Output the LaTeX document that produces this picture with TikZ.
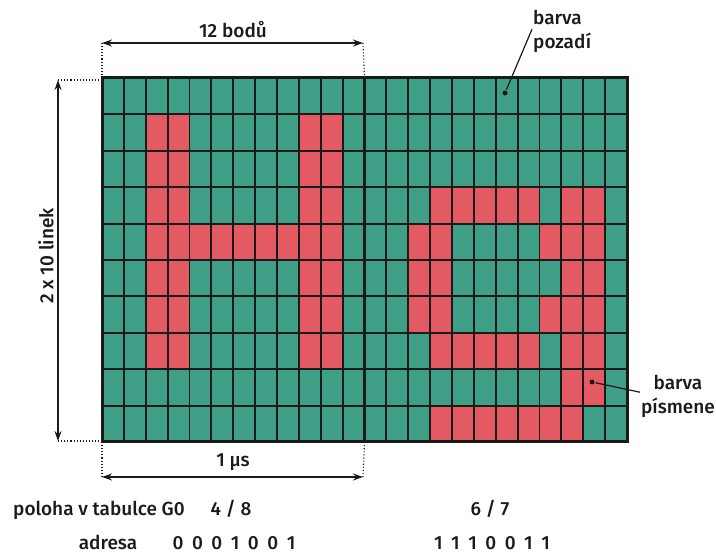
\documentclass[tikz,border=0pt]{standalone}
\usepackage{fontspec}
\setmainfont{Fira Sans}[UprightFont={* Medium}]
\usetikzlibrary{arrows.meta, positioning}
\definecolor{pixgreen}{HTML}{3E9E86}
\definecolor{pixred}{HTML}{E35A62}
\definecolor{pixink}{HTML}{1A1A1A}

\begin{document}
\begin{tikzpicture}[x=1pt, y=-1pt,
        lbl/.style={font=\fontsize{19}{23.5}\selectfont, text=pixink, inner sep=1pt, align=left},
        dim/.style={{Stealth[length=10pt,width=7pt]}-{Stealth[length=10pt,width=7pt]}, line width=1.4pt, pixink},
        guide/.style={dotted, line width=1.1pt, pixink},
        lead/.style={line width=1.2pt, pixink, shorten <=1pt},
        dot/.style={circle, fill=pixink, inner sep=0pt, minimum size=5pt}
    ]
        \useasboundingbox (0,0) rectangle (716,556);

        % pixel grid, 24 x 10 cells
        \begin{scope}[shift={(102,78)}, x=21.875pt, y=-36.4pt]
            \fill[pixgreen] (0,0) rectangle (24,10);
            \foreach \r/\a/\b in {1/2/3, 1/9/10, 2/2/3, 2/9/10, 3/2/3, 3/9/10, 4/2/10,
                    5/2/3, 5/9/10, 6/2/3, 6/9/10, 7/2/3, 7/9/10,
                    3/15/19, 3/21/22, 4/14/15, 4/20/22, 5/14/15, 5/21/22, 6/14/15,
                    6/20/22, 7/15/19, 7/21/22, 8/21/22, 9/15/21}
                \fill[pixred] (\a,\r) rectangle (\b+1,\r+1);
            \foreach \c in {1,...,23}
                \draw[line width=1.9pt, pixink] (\c,0) -- (\c,10);
            \foreach \r in {1,...,9}
                \draw[line width=1.9pt, pixink] (0,\r) -- (24,\r);
            \draw[line width=2.6pt, pixink] (12,0) -- (12,10);
            \draw[line width=3pt, pixink] (0,0) rectangle (24,10);
            \coordinate (gridNW) at (0,0);
            \coordinate (gridNM) at (12,0);
            \coordinate (gridSW) at (0,10);
            \coordinate (gridSM) at (12,10);
        \end{scope}

        % top dimension
        \coordinate (topL) at (102,43);
        \coordinate (topR) at (363,43);
        \draw[guide] (topL) -- (gridNW);
        \draw[guide] (topR) -- (gridNM);
        \draw[dim] (topL) -- (topR);
        \node (pts) [lbl, anchor=base] at (233,38) {12 bodů};

        % left dimension
        \coordinate (leftT) at (58,80);
        \coordinate (leftB) at (58,441);
        \draw[guide] (leftT) -- (102,80);
        \draw[guide] (leftB) -- (102,441);
        \draw[dim] (leftT) -- (leftB);
        \node (lines) [lbl, rotate=90] at (46,256) {2 x 10 linek};

        % bottom dimension
        \coordinate (botL) at (102,477);
        \coordinate (botR) at (363,477);
        \draw[guide] (gridSW) -- (botL);
        \draw[guide] (gridSM) -- (botR);
        \draw[dim] (botL) -- (botR);
        \node (time) [lbl, anchor=base] at (233,467) {1 µs};

        % callouts
        \node (bgdot) [dot] at (505,93) {};
        \node (bgtxt) [lbl, anchor=north west] at (532,9) {barva\\pozadí};
        \draw[lead] (bgdot) -- ([yshift=2pt]bgtxt.west);
        \node (fgdot) [dot] at (592,382) {};
        \node (fgtxt) [lbl, align=center, anchor=north] at (678,374) {barva\\písmene};
        \draw[lead] (fgdot) -- ([yshift=4pt]fgtxt.west);

        % table rows
        \node (pos) [lbl, anchor=base west] at (12,515) {poloha v tabulce G0};
        \node (posH) [lbl, anchor=base] at (231,515) {4 / 8};
        \node (posO) [lbl, anchor=base] at (490,515) {6 / 7};
        \node (addr) [lbl, anchor=base] at (108,550) {adresa};
        \node (addrH) [lbl, anchor=base] at (234,550) {0\hspace{0.45em}0\hspace{0.45em}0\hspace{0.45em}1\hspace{0.45em}0\hspace{0.45em}0\hspace{0.45em}1};
        \node (addrO) [lbl, anchor=base] at (492,550) {1\hspace{0.45em}1\hspace{0.45em}1\hspace{0.45em}0\hspace{0.45em}0\hspace{0.45em}1\hspace{0.45em}1};
    \end{tikzpicture}
\end{document}
